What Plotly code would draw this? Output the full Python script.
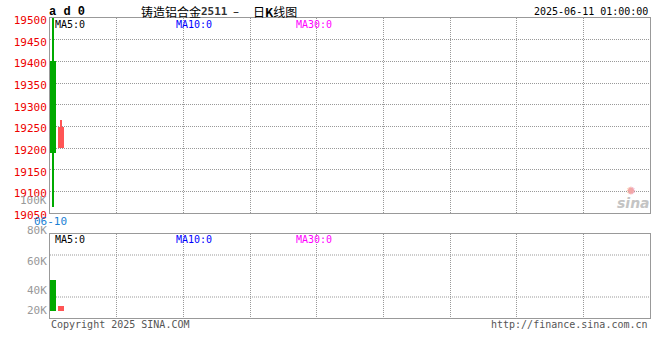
import plotly.graph_objects as go

# ---- data ----
dates = ["06-10", "06-11"]
opens = [19400, 19200]
highs = [19500, 19265]
lows = [19065, 19200]
closes = [19188, 19250]
volumes = [47100, 29800]
price_ticks = [19050, 19100, 19150, 19200, 19250, 19300, 19350, 19400, 19450, 19500]
vol_labels = ["100K", "80K", "60K", "40K", "20K"]

W, H = 660, 360
L, R, T, B = 50, 10, 18, 42
PW, PH = W - L - R, H - T - B


def px_x(px):
    return (px - L) / PW


def px_y(py):
    return (H - B - py) / PH


UP, DOWN = "#ff5555", "#00aa00"
MONO = "DejaVu Sans Mono"
CJK = "Noto Sans CJK SC"
idx = list(range(len(dates)))
cols = [UP if c >= o else DOWN for o, c in zip(opens, closes)]

fig = go.Figure()
# wicks
fig.add_trace(go.Bar(x=idx, y=[h - l for h, l in zip(highs, lows)], base=lows,
                     width=0.15, marker=dict(color=cols, line=dict(width=0)),
                     xaxis="x", yaxis="y", hoverinfo="skip", showlegend=False))
# bodies
fig.add_trace(go.Bar(x=idx, y=[max(abs(c - o), 1) for o, c in zip(opens, closes)],
                     base=[min(o, c) for o, c in zip(opens, closes)],
                     width=0.75, marker=dict(color=cols, line=dict(width=0)),
                     xaxis="x", yaxis="y", showlegend=False))
# volume
vol_floor = 26700
fig.add_trace(go.Bar(x=idx, y=[v - vol_floor for v in volumes], base=vol_floor,
                     width=0.75, marker=dict(color=cols, line=dict(width=0)),
                     xaxis="x2", yaxis="y2", showlegend=False))

GRID = dict(showgrid=True, gridcolor="#999999", griddash="1px,1px", gridwidth=1)
BORDER = dict(showline=True, linecolor="#999999", linewidth=1, mirror=True, automargin=False)
xr = [-0.375, 74.625]

fig.update_layout(
    width=W, height=H, margin=dict(l=L, r=R, t=T, b=B, autoexpand=False),
    paper_bgcolor="white", plot_bgcolor="white", barmode="overlay",
    xaxis=dict(domain=[0, 1], range=xr, anchor="y", tickmode="linear", tick0=-0.375,
               dtick=25 / 3, showticklabels=False, ticks="", zeroline=False, **GRID, **BORDER),
    yaxis=dict(domain=[px_y(213.3), 1], range=[19050, 19500], anchor="x",
               tickvals=price_ticks, tickformat="d", ticks="", ticklabelshift=2,
               tickfont=dict(family=MONO, size=11, color="#ee0000"),
               zeroline=False, **GRID, **BORDER),
    xaxis2=dict(domain=[0, 1], range=xr, anchor="y2", tickmode="linear", tick0=-0.375,
                dtick=25 / 3, showticklabels=False, ticks="", zeroline=False, **GRID, **BORDER),
    yaxis2=dict(domain=[0, px_y(234)], range=[21800, 77800], anchor="x2",
                showticklabels=False, showgrid=False, zeroline=False, **BORDER),
    bargap=0,
)

# volume horizontal gridlines
for f in [0.25, 0.75]:
    fig.add_shape(type="line", xref="x2 domain", yref="y2 domain", x0=0, x1=1, y0=f, y1=f,
                  line=dict(color="#999999", width=1, dash="1px,1px"), layer="below")

ann = []


def add(text, x, y, xanchor="left", size=10, color="black", family=MONO, **kw):
    ann.append(dict(text=text, x=px_x(x), y=px_y(y), xref="paper", yref="paper",
                    xanchor=xanchor, yanchor="middle", showarrow=False,
                    font=dict(family=family, size=size, color=color), **kw))


add("<b>a d 0</b>", 47, 12, size=12, family="Liberation Mono")
add("铸造铝合金", 139, 12, size=12, family=CJK)
add("<b>2511</b>", 199, 12, size=11, color="#333333")
add("–", 231, 12, size=12, color="#222222", family="DejaVu Sans")
add("日<b>K</b>线图", 251, 12, size=12, family=CJK)
add("2025-06-11 01:00:00", 650, 12, xanchor="right", size=10)
for yy in (24, 239):
    add("MA5:0", 53, yy, size=10, color="black")
    add("MA10:0", 174, yy, size=10, color="#0000ff")
    add("MA30:0", 294, yy, size=10, color="#ff00ff")
add("06-10", 50, 221, xanchor="center", size=11, color="#1a7fd4")
for t, py in zip(vol_labels, [200, 230, 261, 290.7, 310.7]):
    add(t, 49, py, xanchor="right", size=11, color="#999999")
add("Copyright 2025 SINA.COM", 49, 324, size=10, color="#555555")
add("http://finance.sina.com.cn", 650, 324, xanchor="right", size=10, color="#555555")
# sina watermark
add("✹", 631, 191, xanchor="center", size=12, color="#f2a6a6", family="DejaVu Sans")
add("<b><i>sina</i></b>", 633, 203, xanchor="center", size=14, color="#c4c4c4",
    family="DejaVu Sans")

fig.update_layout(annotations=ann)
fig.write_html("out.html", config={"displayModeBar": False},
               post_script="document.body.style.margin='0';document.body.style.overflow='hidden';")
